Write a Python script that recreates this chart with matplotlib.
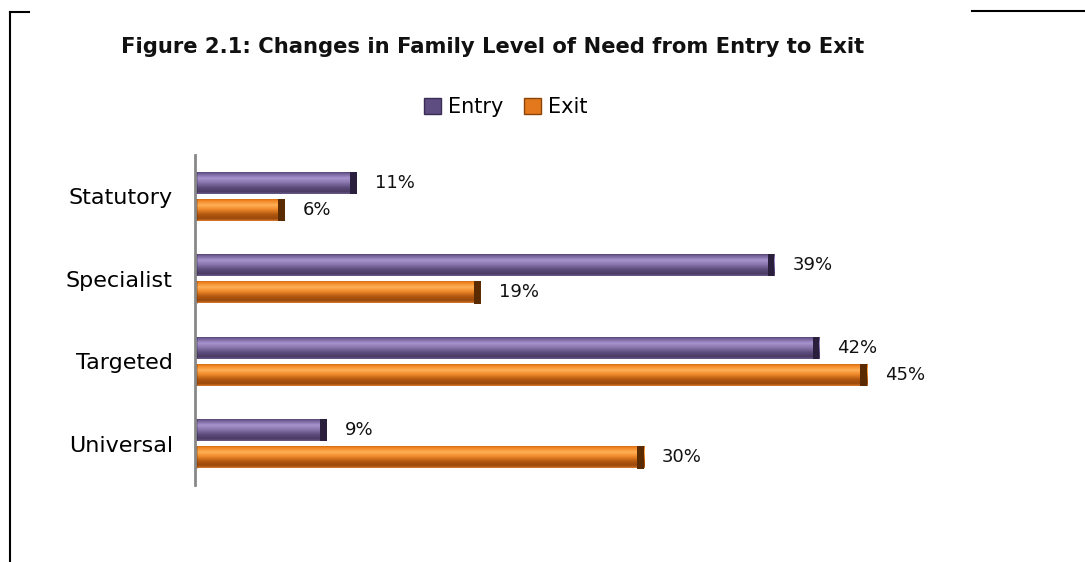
import matplotlib
matplotlib.use("Agg")
import matplotlib.pyplot as plt
from matplotlib.lines import Line2D
from matplotlib.patches import Patch
from matplotlib.colors import LinearSegmentedColormap
import numpy as np

categories = ["Statutory", "Specialist", "Targeted", "Universal"]
entry = [10.8, 38.7, 41.7, 8.8]
exit_ = [6.0, 19.1, 44.9, 30.0]
labels_entry = ["11%", "39%", "42%", "9%"]
labels_exit = ["6%", "19%", "45%", "30%"]

W, H = 1085, 562
fig = plt.figure(figsize=(W / 100, H / 100), dpi=100)

ax_left, ax_right = 195, 945
ax_top, ax_bot = 155, 485
ax = fig.add_axes([ax_left / W, 1 - ax_bot / H, (ax_right - ax_left) / W, (ax_bot - ax_top) / H])

y = np.arange(len(categories))
bh = 0.27
off = 0.165

purple_cmap = LinearSegmentedColormap.from_list(
    "p", [(0, "#45385f"), (0.1, "#6f5d95"), (0.3, "#a994cd"), (0.48, "#8c79b0"),
          (0.72, "#5c4c7c"), (0.9, "#4a3b63"), (1, "#6b5a8a")])
orange_cmap = LinearSegmentedColormap.from_list(
    "o", [(0, "#c05c0a"), (0.1, "#f0821e"), (0.3, "#ffb058"), (0.48, "#f28c2c"),
          (0.72, "#b0560f"), (0.9, "#9a4a0c"), (1, "#d8782a")])

grad = np.linspace(0, 1, 64).reshape(-1, 1)

def bevel_bars(ypos, vals, cmap, edge):
    bars = ax.barh(ypos, vals, height=bh, color="none", edgecolor="none", zorder=2)
    for b, yy, v in zip(bars, ypos, vals):
        im = ax.imshow(grad, cmap=cmap, aspect="auto",
                       extent=(0, v, yy + bh / 2, yy - bh / 2), zorder=2,
                       interpolation="bilinear")
        im.set_clip_path(b)
        ax.barh(yy, 0.45, left=v - 0.45, height=bh, color=edge, edgecolor="none", zorder=5)
        ax.barh(yy, 0.2, left=0, height=bh, color=edge, alpha=0.25, edgecolor="none", zorder=5)

bevel_bars(y - off, entry, purple_cmap, "#2a1f3d")
bevel_bars(y + off, exit_, orange_cmap, "#5a2a00")

for yy, v, t in zip(y - off, entry, labels_entry):
    ax.text(v + 1.2, yy, t, va="center", ha="left", fontsize=13, color="#111111")
for yy, v, t in zip(y + off, exit_, labels_exit):
    ax.text(v + 1.2, yy, t, va="center", ha="left", fontsize=13, color="#111111")

ax.set_xlim(0, 50.1)
ax.set_ylim(3.5, -0.5)
ax.set_yticks(y)
ax.set_yticklabels(categories, fontsize=16)
ax.tick_params(axis="y", length=0, pad=16)
ax.set_xticks([])
for s in ["top", "right", "bottom"]:
    ax.spines[s].set_visible(False)
ax.spines["left"].set_color("#888888")
ax.spines["left"].set_linewidth(2)
ax.spines["left"].set_zorder(6)

fig.text(493 / W, 1 - 47 / H, "Figure 2.1: Changes in Family Level of Need from Entry to Exit",
         ha="center", va="center", fontsize=15.2, fontweight="bold",
         family="DejaVu Sans", color="#111111")

handles = [Patch(facecolor="#5e4d80", edgecolor="#3a2d55", label="Entry"),
           Patch(facecolor="#e4781c", edgecolor="#8a4308", label="Exit")]
fig.legend(handles=handles, loc="center", bbox_to_anchor=(506 / W, 1 - 107 / H), ncol=2,
           frameon=False, fontsize=15, handlelength=0.8, handleheight=0.8,
           handletextpad=0.35, columnspacing=1.0)

# page frame fragments
fig.add_artist(Line2D([10 / W, 10 / W], [0, 1 - 12 / H], color="black", lw=1.5))
fig.add_artist(Line2D([10 / W, 29 / W], [1 - 12 / H, 1 - 12 / H], color="black", lw=1.5))
fig.add_artist(Line2D([972 / W, 1], [1 - 11 / H, 1 - 11 / H], color="black", lw=1.5))

fig.savefig("out.png", dpi=100, facecolor="white")
